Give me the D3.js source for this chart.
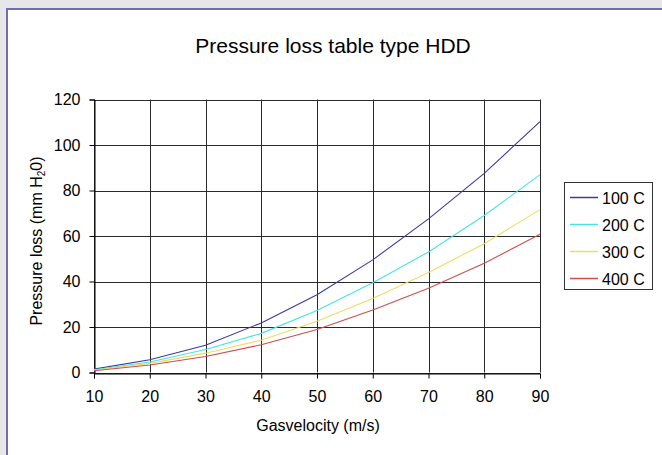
<!DOCTYPE html>
<html>
<head>
<meta charset="utf-8">
<script src="https://cdn.jsdelivr.net/npm/d3@7"></script>
<style>
body { margin: 0; background: #e7e7ea; }
svg { display: block; }
text { font-family: "Liberation Sans", Arial, sans-serif; fill: #000; }
</style>
</head>
<body>
<svg id="chart" width="662" height="455"></svg>
<script>
// gas velocity (m/s)
var velocity = [10, 20, 30, 40, 50, 60, 70, 80, 90];

// pressure loss (mm H2O) per temperature
var loss100 = [1.5, 5.6, 12.0, 21.8, 34.2, 49.5, 67.5, 87.5, 110.3];
var loss200 = [1.2, 4.6, 10.1, 17.2, 27.3, 39.5, 53.0, 69.0, 87.0];
var loss300 = [1.0, 4.0, 8.5, 14.2, 22.5, 32.5, 44.0, 56.6, 71.6];
var loss400 = [0.8, 3.3, 7.0, 12.2, 18.9, 27.5, 37.0, 48.0, 60.8];

var seriesNames = ["100 C", "200 C", "300 C", "400 C"];
var seriesColors = ["#3a3aa6", "#44e4e4", "#eedc66", "#d04c4c"];
var xTicks = [10, 20, 30, 40, 50, 60, 70, 80, 90];
var yTicks = [0, 20, 40, 60, 80, 100, 120];

var series = [loss100, loss200, loss300, loss400].map(function(v, i) {
    return { name: seriesNames[i], color: seriesColors[i],
             values: v.map(function(d, j) { return { x: velocity[j], y: d }; }) };
});

var svg = d3.select("#chart");

// chart area with border
svg.append("rect")
    .attr("x", 7).attr("y", 9)
    .attr("width", 670).attr("height", 460)
    .attr("fill", "#fff")
    .attr("stroke", "#6e6eb0")
    .attr("stroke-width", 2);

var plot = { left: 94, right: 540, top: 99.5, bottom: 372.5 };

var x = d3.scaleLinear().domain([10, 90]).range([plot.left, plot.right]);
var y = d3.scaleLinear().domain([0, 120]).range([plot.bottom, plot.top]);

var g = svg.append("g");

// grid
g.selectAll(".vgrid")
    .data(xTicks)
  .enter().append("line")
    .attr("class", "vgrid")
    .attr("x1", function(d) { return Math.round(x(d)) + 0.5; })
    .attr("x2", function(d) { return Math.round(x(d)) + 0.5; })
    .attr("y1", plot.top).attr("y2", plot.bottom)
    .attr("stroke", "#2a2a2a");

g.selectAll(".hgrid")
    .data(yTicks)
  .enter().append("line")
    .attr("class", "hgrid")
    .attr("x1", plot.left).attr("x2", plot.right)
    .attr("y1", function(d) { return Math.round(y(d)) + 0.5; })
    .attr("y2", function(d) { return Math.round(y(d)) + 0.5; })
    .attr("stroke", "#2a2a2a");

// axes
var xAxis = d3.axisBottom(x).tickValues(xTicks).tickSize(5).tickPadding(12);
var yAxis = d3.axisLeft(y).tickValues(yTicks).tickSize(5).tickPadding(9);

function styleAxis(a) {
    a.select(".domain").attr("stroke", "#000");
    a.selectAll(".tick line").attr("stroke", "#000");
    a.selectAll("text").attr("font-size", 16).attr("font-family", "Liberation Sans, Arial, sans-serif");
}

g.append("g")
    .attr("transform", "translate(0," + (Math.round(y(0)) + 0.5) + ")")
    .call(xAxis)
    .call(styleAxis);

g.append("g")
    .attr("transform", "translate(" + (Math.round(x(10)) + 0.5) + ",0)")
    .call(yAxis)
    .call(styleAxis);

// lines
var line = d3.line()
    .x(function(d) { return x(d.x); })
    .y(function(d) { return y(d.y); });

g.selectAll(".series")
    .data(series)
  .enter().append("path")
    .attr("class", "series")
    .attr("d", function(d) { return line(d.values); })
    .attr("fill", "none")
    .attr("stroke", function(d) { return d.color; })
    .attr("stroke-width", 1.1);

// title and axis labels
svg.append("text")
    .attr("x", 333).attr("y", 53)
    .attr("text-anchor", "middle")
    .attr("font-size", 21)
    .text("Pressure loss table type HDD");

svg.append("text")
    .attr("x", 318).attr("y", 431)
    .attr("text-anchor", "middle")
    .attr("font-size", 16)
    .text("Gasvelocity (m/s)");

var yl = svg.append("text")
    .attr("transform", "translate(42,241) rotate(-90)")
    .attr("text-anchor", "middle")
    .attr("font-size", 16);
yl.append("tspan").text("Pressure loss (mm H");
yl.append("tspan").attr("font-size", 10).attr("dy", 3).text("2");
yl.append("tspan").attr("dy", -3).text("0)");

// legend
var legend = svg.append("g").attr("transform", "translate(564,182)");
legend.append("rect")
    .attr("x", 0.5).attr("y", 0.5)
    .attr("width", 88).attr("height", 107)
    .attr("fill", "#fff")
    .attr("stroke", "#333");

var item = legend.selectAll(".item")
    .data(series)
  .enter().append("g")
    .attr("class", "item")
    .attr("transform", function(d, i) { return "translate(0," + (15.5 + i * 27) + ")"; });

item.append("line")
    .attr("x1", 6).attr("x2", 34)
    .attr("stroke", function(d) { return d.color; })
    .attr("stroke-width", 1.5);

item.append("text")
    .attr("x", 38).attr("y", 6)
    .attr("font-size", 16)
    .text(function(d) { return d.name; });
</script>
</body>
</html>
